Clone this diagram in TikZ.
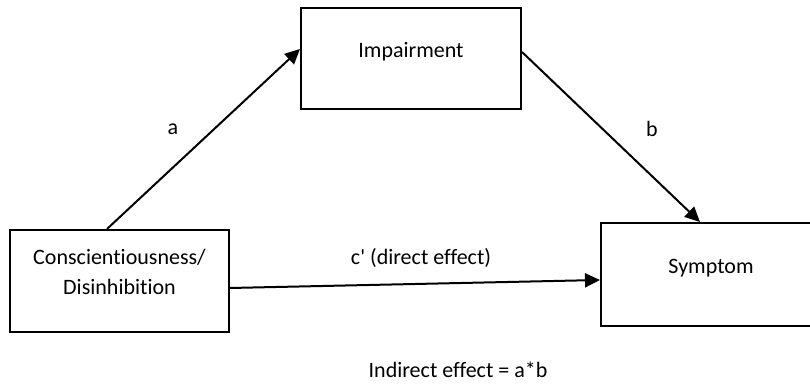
\documentclass[tikz,border=0pt]{standalone}
\usepackage{fontspec}
\newfontfamily\calib{Carlito}[Ligatures=NoCommon]
\usetikzlibrary{arrows.meta}
\begin{document}
\begin{tikzpicture}[x=0.5pt,y=-0.5pt,
  box/.style={draw, line width=1pt, inner sep=0pt, font=\calib\fontsize{11}{15}\selectfont},
  conn/.style={line width=1pt, -{Triangle[length=7.5pt,width=7pt]}},
  lbl/.style={font=\calib\fontsize{11}{13}\selectfont, inner sep=0pt}]
\useasboundingbox (0,0) rectangle (810,389);
\node[box] (cons) at (119.5,281) {\parbox[c][51pt][t]{109.5pt}{\centering\rule{0pt}{17.5pt}Conscientiousness/\\Disinhibition}};
\node[box] (imp) at (411,58.5) {\parbox[c][50.5pt][t]{110pt}{\centering\rule{0pt}{25pt}Impairment}};
\node[box] (sym) at (711,274.5) {\parbox[c][51.5pt][t]{110pt}{\centering\rule{0pt}{25.5pt}Symptom}};
\draw[conn] ([xshift=-6.25pt]cons.north) -- ([yshift=4.75pt]imp.west);
\draw[conn] ([yshift=3.25pt]imp.east) -- ([xshift=-5.5pt]sym.north);
\draw[conn] ([yshift=-3.5pt]cons.east) -- ([yshift=-2.75pt]sym.west);
\node[lbl] (la) at (173,129) {a};
\node[lbl] (lb) at (652,129) {b};
\node[lbl] (lc) at (421,258) {c' (direct effect)};
\node[lbl] (li) at (458,370) {Indirect effect = a*b};
\end{tikzpicture}
\end{document}
